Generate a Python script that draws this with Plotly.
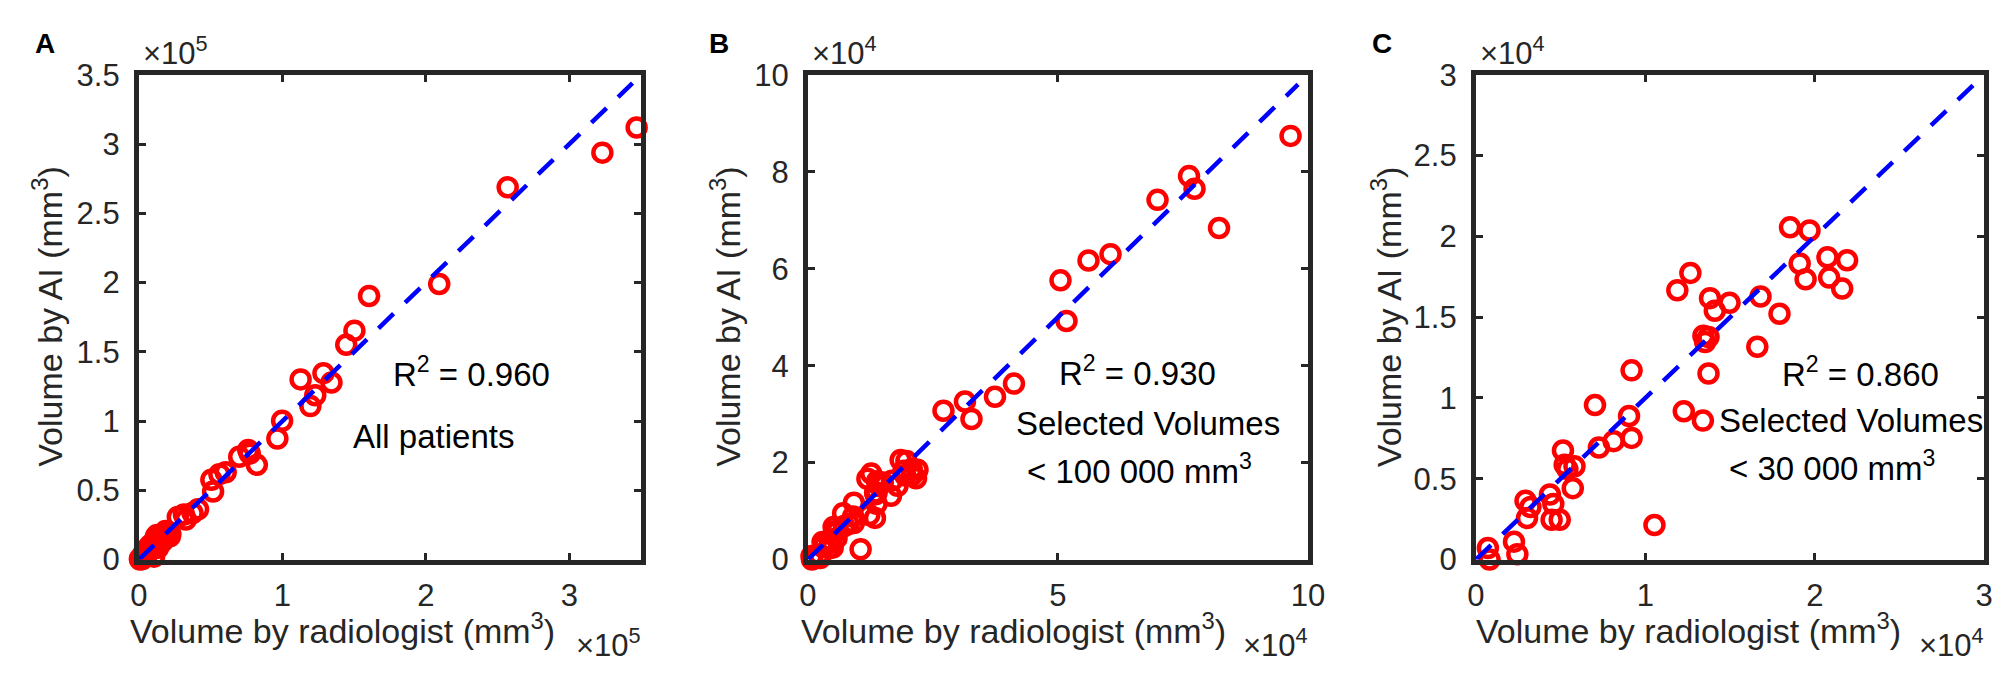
import plotly.graph_objects as go

# volumes in mm^3 (B and C are subsets of A)
radiologist = [346900, 323000, 257000, 209300, 160400, 150200, 144500, 112700,
               128600, 134200, 122900, 119500, 99800,
               96500, 76200, 77300, 69900, 82200, 60500, 56100, 50500, 51700,
               41200, 37400, 31400, 32700, 27100,
               18540, 19690, 20750, 21910, 19110, 19460, 20850, 21620, 12660,
               11890, 13820, 14970, 14100, 16800, 17920, 13430, 13730, 13530,
               16610, 13730, 9190, 7030, 9040, 9190, 8130, 7260, 12270, 13400,
               5140, 5240, 5820, 5400, 5720, 2930, 3220, 3020, 4370, 4570,
               4470, 4950, 10540, 2250, 2450, 710, 810]
ai = [312000, 293800, 268800, 199000, 190300, 165300, 155100, 130100,
      134600, 127800, 118700, 110800, 100200,
      87400, 79100, 76500, 74200, 68400, 63000, 61700, 57600, 49200,
      36300, 33600, 32600, 29000, 30700,
      20560, 20360, 18710, 18520, 18320, 17350, 17450, 16770, 17740,
      16670, 16180, 15890, 15400, 16280, 15210, 13850, 13770, 13460,
      13170, 11520, 11710, 9570, 8890, 7530, 7330, 6940, 9180, 8600,
      6750, 5870, 5780, 5600, 4420, 3640, 3250, 2570, 4030, 3440,
      2470, 2470, 2140, 1110, 330, 720, 0]

panel_letters = ['A', 'B', 'C']
axis_max = [350000, 100000, 30000]
line_end = [344000, 98000, 29400]
exponents = ['5', '4', '4']
x_tickvals = [[0, 100000, 200000, 300000], [0, 50000, 100000], [0, 10000, 20000, 30000]]
x_ticktext = [['0', '1', '2', '3'], ['0', '5', '10'], ['0', '1', '2', '3']]
y_tickvals = [[0, 50000, 100000, 150000, 200000, 250000, 300000, 350000],
              [0, 20000, 40000, 60000, 80000, 100000],
              [0, 5000, 10000, 15000, 20000, 25000, 30000]]
y_ticktext = [['0', '0.5', '1', '1.5', '2', '2.5', '3', '3.5'],
              ['0', '2', '4', '6', '8', '10'],
              ['0', '0.5', '1', '1.5', '2', '2.5', '3']]
r2_text = ['R<sup>2</sup> = 0.960', 'R<sup>2</sup> = 0.930', 'R<sup>2</sup> = 0.860']
note_text = [['All patients'],
             ['Selected Volumes', '&lt; 100 000 mm<sup>3</sup>'],
             ['Selected Volumes', '&lt; 30 000 mm<sup>3</sup>']]

# layout in pixels
W, H = 2008, 678
box_x = [(123.5, 632.3), (801.3, 1308), (1478, 1993)]
box_top, box_bottom = 52.5, 563.7
# text positions as fractions of the axis range
r2_pos = [(0.663, 0.387), (0.659, 0.388), (0.757, 0.387)]
note_pos = [[(0.586, 0.253)], [(0.679, 0.281), (0.663, 0.187)], [(0.737, 0.287), (0.70, 0.193)]]
letter_x = [28, 711, 1383]
ytitle_x = [30, 717, 1387]
xtitle_shift = [-48, -45, -42]

ink = '#262626'
font = 'Liberation Sans, Arial, sans-serif'


def paper_note(text, px, py, size, xanchor='center', angle=0, color=ink, family=font):
    return dict(text=text, x=px / W, y=1 - py / H, xref='paper', yref='paper',
                xanchor=xanchor, yanchor='middle', textangle=angle, showarrow=False,
                font=dict(family=family, size=size, color=color))


fig = go.Figure()
annotations = []
layout = {}
for i in range(3):
    sfx = '' if i == 0 else str(i + 1)
    lim = axis_max[i]
    xs = [x for x, y in zip(radiologist, ai) if x < lim and y < lim]
    ys = [y for x, y in zip(radiologist, ai) if x < lim and y < lim]
    fig.add_trace(go.Scatter(x=xs, y=ys, mode='markers', xaxis='x' + sfx, yaxis='y' + sfx,
                             cliponaxis=False, showlegend=False,
                             marker=dict(symbol='circle-open', size=18, color='#ff0000',
                                         line=dict(width=4.5, color='#ff0000'))))
    fig.add_trace(go.Scatter(x=[0, line_end[i]], y=[0, line_end[i]], mode='lines',
                             xaxis='x' + sfx, yaxis='y' + sfx, showlegend=False,
                             line=dict(color='#0000ff', width=4.5, dash='21px,16px')))

    x0, x1 = box_x[i]
    common = dict(showline=True, linewidth=5, linecolor=ink, mirror='allticks',
                  ticks='inside', ticklen=7, tickwidth=3, tickcolor=ink,
                  showgrid=False, zeroline=False, range=[0, lim],
                  tickfont=dict(family=font, size=31, color=ink))
    layout['xaxis' + sfx] = dict(common, domain=[x0 / W, x1 / W], anchor='y' + sfx,
                                 tickvals=x_tickvals[i], ticktext=x_ticktext[i],
                                 ticklabelstandoff=4)
    layout['yaxis' + sfx] = dict(common, domain=[1 - box_bottom / H, 1 - box_top / H],
                                 anchor='x' + sfx, tickvals=y_tickvals[i],
                                 ticktext=y_ticktext[i], ticklabelstandoff=8)

    xr, yr = 'x' + sfx, 'y' + sfx
    annotations.append(dict(text=r2_text[i], x=r2_pos[i][0] * lim, y=r2_pos[i][1] * lim,
                            xref=xr, yref=yr, xanchor='center', yanchor='middle', showarrow=False,
                            font=dict(family=font, size=33, color='black')))
    for txt, (px, py) in zip(note_text[i], note_pos[i]):
        annotations.append(dict(text=txt, x=px * lim, y=py * lim, xref=xr, yref=yr,
                                xanchor='center', yanchor='middle', showarrow=False,
                                font=dict(family=font, size=33, color='black')))
    annotations.append(paper_note('<b>' + panel_letters[i] + '</b>', letter_x[i], 20, 28,
                                  color='black', family='Liberation Sans, Arial'))
    annotations.append(paper_note('Volume by radiologist (mm<sup>3</sup>)',
                                  (x0 + x1) / 2 + xtitle_shift[i], 636, 34))
    annotations.append(paper_note('Volume by AI (mm<sup>3</sup>)', ytitle_x[i], 308, 34, angle=-90))
    # exponent labels
    annotations.append(paper_note('\u00d710<sup>' + exponents[i] + '</sup>', x0 + 2, 27, 31,
                                  xanchor='left'))
    annotations.append(paper_note('\u00d710<sup>' + exponents[i] + '</sup>', x1 + 2, 652, 31,
                                  xanchor='right'))

fig.update_layout(width=W, height=H, margin=dict(l=0, r=0, t=0, b=0),
                  paper_bgcolor='white', plot_bgcolor='white',
                  annotations=annotations, **layout)
fig.write_html('out.html')
